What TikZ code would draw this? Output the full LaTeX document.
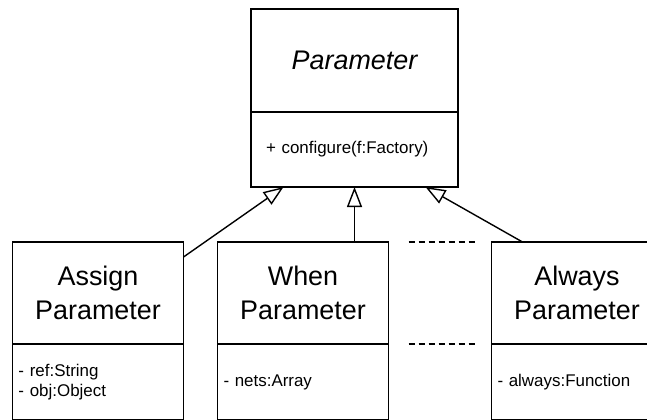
\documentclass[tikz,border=0pt]{standalone}
\usepackage{fontspec}
\setmainfont{Liberation Sans}
\usetikzlibrary{arrows.meta,calc,positioning}

\begin{document}
\begin{tikzpicture}[
    x=1bp, y=1bp,
    line width=1.4bp,
    node distance=0pt,
    head/.style={
        draw,
        outer sep=0pt,
        inner sep=0pt,
        minimum width=171bp,
        minimum height=102bp,
        align=center,
        font=\fontsize{27}{34}\selectfont
    },
    attrs/.style={
        draw,
        outer sep=0pt,
        inner xsep=6bp,
        inner ysep=0pt,
        minimum height=76bp,
        text width=159bp,
        align=left,
        font=\fontsize{17}{20}\selectfont
    },
    gen/.style={-{Triangle[open,length=20bp,width=15bp]}},
    etc/.style={dash pattern=on 6bp off 4bp}
]
    %% Rahmen
    \fill[white, use as bounding box] (0,0) rectangle (647,419);
    \clip (0,0) rectangle (647,419);
    %% Oberklasse
    \node[head, minimum width=207bp, minimum height=103bp,
          font=\fontsize{27}{34}\selectfont\itshape] (param) at (354.5,358.5) {Parameter};
    \node[attrs, below=of param, minimum height=75bp, inner xsep=15bp,
          text width=177bp] (paramops) {+ configure(f:Factory)};
    %% Unterklassen
    \node[head] (assign) at (98,126) {Assign\\Parameter};
    \node[attrs, below=of assign] (assignattr) {- ref:String\\- obj:Object};
    \node[head, right=34bp of assign] (when) {When\\Parameter};
    \node[attrs, below=of when] (whenattr) {- nets:Array};
    \node[head, right=103bp of when] (always) {Always\\Parameter};
    \node[attrs, below=of always] (alwaysattr) {- always:Function};

    %% Vererbung
    \draw[gen] ($(assign.north east)+(0,-15)$) -- ($(paramops.south)+(-71,0)$);
    \draw[gen] (when.north -| paramops.south) -- (paramops.south);
    \draw[gen] ($(always.north west)+(31,0)$) -- ($(paramops.south)+(71,0)$);
    %% weitere Klassen
    \draw[etc] ($(when.north east)+(20,0)$) -- ($(always.north west)+(-16,0)$);
    \draw[etc] ($(when.south east)+(20,0)$) -- ($(always.south west)+(-16,0)$);
\end{tikzpicture}
\end{document}
